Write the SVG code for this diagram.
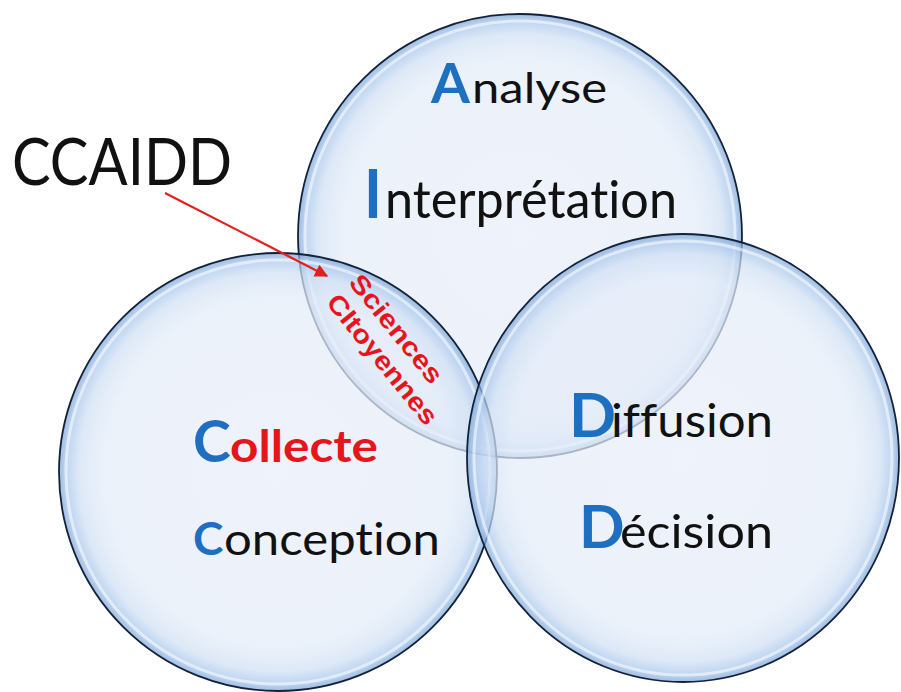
<svg xmlns="http://www.w3.org/2000/svg" width="901" height="692" viewBox="0 0 901 692">
<defs>
<radialGradient id="glass" cx="50%" cy="50%" r="50%">
<stop offset="0%" stop-color="#e8eef9"/>
<stop offset="80%" stop-color="#e4ecf8"/>
<stop offset="91%" stop-color="#d0e0f4"/>
<stop offset="97%" stop-color="#a4c4eb"/>
<stop offset="100%" stop-color="#7aa3d6"/>
</radialGradient>
<marker id="arrow" viewBox="0 0 10 10" refX="9" refY="5" markerWidth="6" markerHeight="6" orient="auto" markerUnits="strokeWidth">
<path d="M0,0 L10,5 L0,10 z" fill="#e0201c"/>
</marker>
<style>
.bubble{fill:url(#glass);fill-opacity:0.72;stroke:#132238;stroke-width:1.8}
.shine{fill:none;stroke:#ffffff;stroke-opacity:0.55;stroke-width:3}
.lbl{font-family:Lato,"Open Sans","Liberation Sans",sans-serif;fill:#111111;font-variant-ligatures:none}
.cap{font-weight:bold;fill:#1e6fc0}
.red{font-weight:bold;fill:#e8141c}
.sc{font-family:"Liberation Sans",Arial,sans-serif;font-weight:bold;font-size:26px;fill:#e8141c;text-anchor:middle}
</style>
</defs>
<rect width="901" height="692" fill="#ffffff"/>
<g id="circle-top">
<ellipse class="bubble" cx="520" cy="236" rx="222" ry="222"/>
<ellipse class="shine" cx="520" cy="236" rx="215" ry="215"/>
</g>
<g id="circle-left">
<ellipse class="bubble" cx="278" cy="472" rx="219" ry="219"/>
<ellipse class="shine" cx="278" cy="472" rx="212" ry="212"/>
</g>
<g id="circle-right">
<ellipse class="bubble" cx="683" cy="458" rx="216" ry="224"/>
<ellipse class="shine" cx="683" cy="458" rx="209" ry="217"/>
</g>
<g id="labels-top">
<text class="lbl" y="103"><tspan class="cap" x="431" font-size="56">A</tspan><tspan x="472" font-size="42" textLength="135" lengthAdjust="spacingAndGlyphs">nalyse</tspan></text>
<text class="lbl" y="218"><tspan class="cap" x="364" font-size="66" textLength="18" lengthAdjust="spacingAndGlyphs">I</tspan><tspan x="385" font-size="52" textLength="292" lengthAdjust="spacingAndGlyphs">nterprétation</tspan></text>
</g>
<g id="labels-left">
<text class="lbl" y="462"><tspan class="cap" x="193" font-size="57">C</tspan><tspan class="red" x="230" font-size="43" textLength="148" lengthAdjust="spacingAndGlyphs">ollecte</tspan></text>
<text class="lbl" y="555"><tspan class="cap" x="193" font-size="46">C</tspan><tspan x="224" font-size="45" textLength="216" lengthAdjust="spacingAndGlyphs">onception</tspan></text>
</g>
<g id="labels-right">
<text class="lbl" y="437"><tspan class="cap" x="569" font-size="62">D</tspan><tspan x="611" font-size="46" textLength="162" lengthAdjust="spacingAndGlyphs">iffusion</tspan></text>
<text class="lbl" y="548"><tspan class="cap" x="579" font-size="60">D</tspan><tspan x="620" font-size="46" textLength="153" lengthAdjust="spacingAndGlyphs">écision</tspan></text>
</g>
<g id="lens-label" transform="translate(389,345) rotate(51)">
<text class="sc" x="-8" y="-7" textLength="132" lengthAdjust="spacingAndGlyphs">Sciences</text>
<text class="sc" x="7" y="23" textLength="160" lengthAdjust="spacingAndGlyphs">CItoyennes</text>
</g>
<g id="ccaidd">
<text class="lbl" x="12" y="185" font-size="66" textLength="220" lengthAdjust="spacingAndGlyphs">CCAIDD</text>
</g>
<g id="connectors">
<line x1="165" y1="193" x2="327" y2="276" stroke="#e0201c" stroke-width="2.2" marker-end="url(#arrow)"/>
</g>
</svg>
